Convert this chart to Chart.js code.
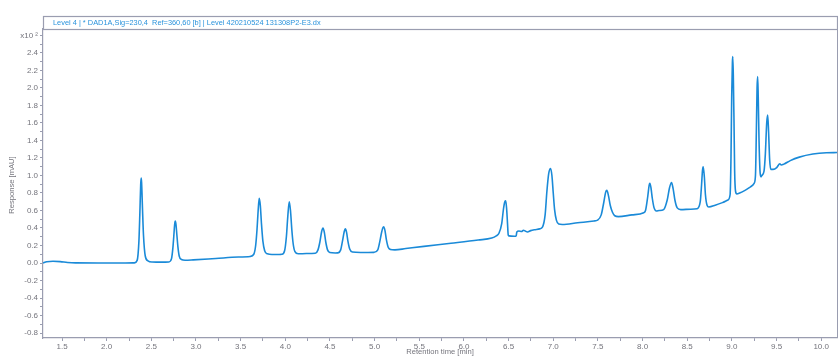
<!DOCTYPE html>
<html>
<head>
<meta charset="utf-8">
<script src="https://cdn.jsdelivr.net/npm/chart.js@4"></script>
<style>
  html, body { margin: 0; padding: 0; background: #ffffff; }
  #wrap { width: 838px; height: 356px; }
</style>
</head>
<body>
<div id="wrap"><canvas id="chrom" width="838" height="356"></canvas></div>
<script>
// Signal header shown in the strip above the plot
const traceTitle = 'Level 4 | * DAD1A,Sig=230,4  Ref=360,60 [b] | Level 420210524 131308P2-E3.dx';
const yAxisTitle = 'Response [mAU]';
const xAxisTitle = 'Retention time [min]';

// Retention time [min]
const retentionTime = [
  1.287, 1.328, 1.399, 1.480, 1.561, 1.652, 1.905, 2.209, 2.310, 2.341,
  2.361, 2.371, 2.381, 2.386, 2.391, 2.401, 2.412, 2.432, 2.462, 2.512,
  2.614, 2.695, 2.726, 2.741, 2.751, 2.761, 2.768, 2.776, 2.786, 2.797,
  2.812, 2.837, 2.878, 2.969, 3.222, 3.475, 3.607, 3.647, 3.668, 3.683,
  3.696, 3.708, 3.720, 3.733, 3.749, 3.769, 3.799, 3.850, 3.931, 3.961,
  3.992, 4.012, 4.027, 4.044, 4.058, 4.073, 4.088, 4.108, 4.144, 4.235,
  4.336, 4.366, 4.387, 4.407, 4.422, 4.437, 4.453, 4.473, 4.498, 4.559,
  4.589, 4.620, 4.640, 4.660, 4.672, 4.686, 4.701, 4.721, 4.751, 4.843,
  4.994, 5.035, 5.055, 5.076, 5.091, 5.102, 5.116, 5.131, 5.152, 5.177,
  5.227, 5.349, 5.552, 5.855, 6.159, 6.311, 6.362, 6.392, 6.423, 6.443,
  6.458, 6.468, 6.478, 6.488, 6.496, 6.504, 6.564, 6.585, 6.592, 6.615,
  6.645, 6.666, 6.686, 6.711, 6.747, 6.787, 6.848, 6.879, 6.909, 6.929,
  6.949, 6.970, 6.985, 7.000, 7.015, 7.035, 7.061, 7.101, 7.273, 7.456,
  7.496, 7.537, 7.567, 7.587, 7.600, 7.618, 7.638, 7.663, 7.689, 7.729,
  7.881, 8.013, 8.033, 8.058, 8.074, 8.082, 8.094, 8.109, 8.129, 8.155,
  8.185, 8.236, 8.276, 8.302, 8.324, 8.342, 8.362, 8.388, 8.428, 8.540,
  8.610, 8.646, 8.661, 8.671, 8.679, 8.692, 8.704, 8.722, 8.742, 8.813,
  8.894, 8.955, 8.980, 8.990, 8.998, 9.006, 9.010, 9.016, 9.024, 9.031,
  9.041, 9.056, 9.087, 9.147, 9.208, 9.249, 9.264, 9.274, 9.282, 9.289,
  9.295, 9.304, 9.315, 9.325, 9.335, 9.360, 9.375, 9.390, 9.401, 9.411,
  9.423, 9.436, 9.461, 9.502, 9.537, 9.552, 9.583, 9.654, 9.755, 9.907,
  10.059, 10.177
];

// Detector response [mAU x10^2]
const response = [
  0.000, 0.015, 0.020, 0.016, 0.006, 0.001, 0.000, 0.000, 0.002, 0.030,
  0.25, 0.55, 0.90, 0.97, 0.92, 0.62, 0.32, 0.08, 0.025, 0.012,
  0.010, 0.012, 0.05, 0.17, 0.30, 0.44, 0.48, 0.44, 0.32, 0.19,
  0.08, 0.04, 0.032, 0.036, 0.052, 0.068, 0.075, 0.10, 0.20, 0.38,
  0.60, 0.74, 0.66, 0.45, 0.25, 0.14, 0.105, 0.098, 0.098, 0.10,
  0.14, 0.30, 0.52, 0.70, 0.60, 0.38, 0.22, 0.13, 0.105, 0.108,
  0.112, 0.15, 0.24, 0.36, 0.40, 0.35, 0.24, 0.15, 0.12, 0.115,
  0.116, 0.15, 0.25, 0.36, 0.39, 0.35, 0.25, 0.16, 0.125, 0.12,
  0.122, 0.15, 0.23, 0.34, 0.40, 0.415, 0.37, 0.27, 0.18, 0.155,
  0.15, 0.165, 0.19, 0.225, 0.262, 0.285, 0.31, 0.34, 0.45, 0.62,
  0.70, 0.71, 0.62, 0.45, 0.32, 0.31, 0.305, 0.31, 0.355, 0.365,
  0.36, 0.375, 0.365, 0.355, 0.37, 0.38, 0.39, 0.41, 0.55, 0.82,
  1.02, 1.08, 1.00, 0.80, 0.61, 0.49, 0.445, 0.44, 0.46, 0.48,
  0.49, 0.55, 0.70, 0.81, 0.83, 0.77, 0.66, 0.58, 0.54, 0.53,
  0.55, 0.575, 0.60, 0.76, 0.89, 0.91, 0.86, 0.74, 0.63, 0.595,
  0.60, 0.61, 0.72, 0.86, 0.92, 0.85, 0.72, 0.63, 0.61, 0.615,
  0.62, 0.70, 0.90, 1.06, 1.10, 0.98, 0.78, 0.66, 0.64, 0.66,
  0.69, 0.72, 0.78, 1.20, 1.90, 2.30, 2.36, 2.15, 1.60, 1.05,
  0.82, 0.79, 0.80, 0.83, 0.87, 0.91, 1.00, 1.50, 2.00, 2.13,
  1.90, 1.40, 1.05, 0.985, 1.00, 1.05, 1.25, 1.60, 1.69, 1.50,
  1.18, 1.07, 1.07, 1.09, 1.135, 1.12, 1.13, 1.17, 1.21, 1.245,
  1.26, 1.262
];

// Axis ranges and tick positions
const xRange = [1.287, 10.177];
const yRange = [-0.857, 2.674];
const xTickValues = [];
for (let v = 1.5; v <= 10.0001; v += 0.25) xTickValues.push(+v.toFixed(2));
const yTickValues = [];
for (let v = -0.8; v <= 2.6001; v += 0.1) yTickValues.push(+v.toFixed(1));

const axisGrey = '#9a9db0';
const labelGrey = '#74747c';
const traceBlue = '#1a8ad8';
const fontFamily = "'Liberation Sans', Arial, sans-serif";

// Header strip, right border of the frame and axis titles
const framePlugin = {
  id: 'frame',
  afterDraw(chart) {
    const { ctx, chartArea: a } = chart;
    ctx.save();
    ctx.strokeStyle = axisGrey;
    ctx.lineWidth = 1.2;
    ctx.strokeRect(Math.round(a.left) + 0.5, 16.5, Math.round(a.right - a.left), Math.round(a.top) - 16);
    ctx.lineWidth = 1;
    ctx.beginPath();
    ctx.moveTo(Math.round(a.right) + 0.5, a.top);
    ctx.lineTo(Math.round(a.right) + 0.5, a.bottom);
    ctx.stroke();

    ctx.fillStyle = '#2a93dc';
    ctx.font = '7.4px ' + fontFamily;
    ctx.textBaseline = 'middle';
    ctx.textAlign = 'left';
    ctx.fillText(traceTitle, 53, 23);

    ctx.fillStyle = labelGrey;
    ctx.font = '7.6px ' + fontFamily;
    ctx.textAlign = 'center';
    ctx.fillText(xAxisTitle, 440, 352);
    ctx.translate(12, 185);
    ctx.rotate(-Math.PI / 2);
    ctx.fillText(yAxisTitle, 0, 0);
    ctx.restore();
  }
};

new Chart(document.getElementById('chrom'), {
  type: 'scatter',
  data: {
    datasets: [{
      data: retentionTime.map((t, i) => ({ x: t, y: response[i] })),
      showLine: true,
      borderColor: traceBlue,
      borderWidth: 1.6,
      pointRadius: 0,
      cubicInterpolationMode: 'monotone',
      fill: false
    }]
  },
  options: {
    responsive: false,
    animation: false,
    devicePixelRatio: 1,
    layout: { padding: { top: 29, right: 1, left: 0, bottom: 0 } },
    plugins: { legend: { display: false }, tooltip: { enabled: false } },
    scales: {
      x: {
        type: 'linear',
        min: xRange[0],
        max: xRange[1],
        afterBuildTicks(scale) { scale.ticks = xTickValues.map(v => ({ value: v })); },
        afterFit(scale) { scale.height = 18; },
        ticks: {
          autoSkip: false,
          maxRotation: 0,
          padding: 1,
          color: labelGrey,
          font: { size: 8, family: fontFamily },
          callback(v) {
            const r = Math.round(v * 100);
            return r % 50 === 0 ? (v).toFixed(1) : '';
          }
        },
        grid: { drawOnChartArea: false, drawTicks: true, tickLength: 3, tickColor: axisGrey },
        border: { color: axisGrey, width: 1.2 }
      },
      y: {
        type: 'linear',
        min: yRange[0],
        max: yRange[1],
        afterBuildTicks(scale) { scale.ticks = yTickValues.map(v => ({ value: v })); },
        afterFit(scale) { scale.width = 43; },
        ticks: {
          autoSkip: false,
          padding: 2,
          color: labelGrey,
          font: { size: 8, family: fontFamily },
          callback(v) {
            const r = Math.round(v * 10);
            if (r === 26) return 'x10 ²';
            return r % 2 === 0 ? (r / 10).toFixed(1) : '';
          }
        },
        grid: { drawOnChartArea: false, drawTicks: true, tickLength: 3, tickColor: axisGrey },
        border: { color: axisGrey, width: 1.2 }
      }
    }
  },
  plugins: [framePlugin]
});
</script>
</body>
</html>
